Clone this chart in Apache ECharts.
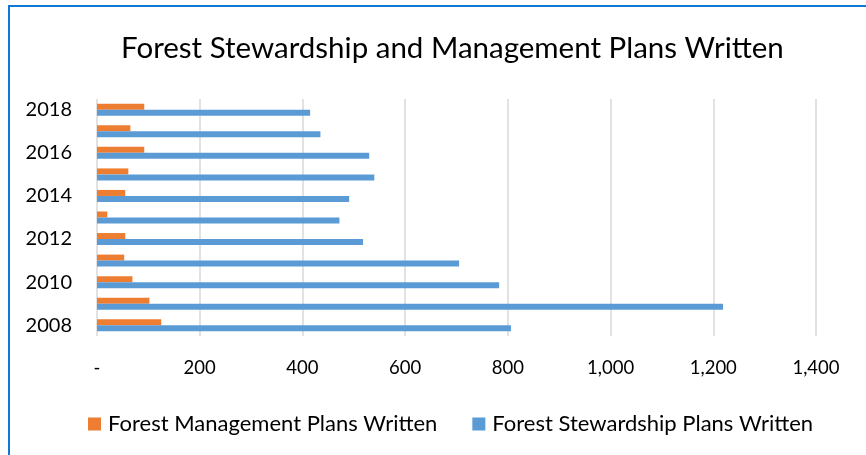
<!DOCTYPE html>
<html>
<head>
<meta charset="utf-8">
<script src="https://cdn.jsdelivr.net/npm/echarts@6/dist/echarts.min.js"></script>
<style>
    html, body { margin: 0; padding: 0; background: #fff; }
    #frame {
        position: absolute; left: 8px; top: 5px; width: 900px; height: 500px;
        border-top: 2px solid #0f78d4; border-left: 2px solid #0f78d4;
    }
    #main { position: absolute; left: 0; top: 0; width: 866px; height: 455px; }
</style>
</head>
<body>
<div id="frame"></div>
<div id="main"></div>
<script>
    var years = ['2008', '2009', '2010', '2011', '2012', '2013', '2014', '2015', '2016', '2017', '2018'];
    var management = [125, 102, 69, 53, 55, 20, 55, 61, 92, 65, 92];
    var stewardship = [806, 1219, 783, 705, 518, 472, 491, 540, 530, 435, 415];
    var xTicks = { 0: '-', 200: '200', 400: '400', 600: '600', 800: '800', 1000: '1,000', 1200: '1,200', 1400: '1,400' };

    var font = 'Lato, "Liberation Sans", sans-serif';
    var chart = echarts.init(document.getElementById('main'));

    var option = {
        animation: false,
        title: {
            text: 'Forest Stewardship and Management Plans Written',
            left: 116,
            top: 28,
            textStyle: { fontFamily: font, fontSize: 29.5, fontWeight: 'normal', color: '#000' }
        },
        legend: {
            data: ['Forest Management Plans Written', 'Forest Stewardship Plans Written'],
            left: 83,
            top: 408,
            itemWidth: 13,
            itemHeight: 13,
            itemGap: 35,
            icon: 'rect',
            textStyle: { fontFamily: font, fontSize: 22, color: '#000', padding: [0, 0, 0, 2] }
        },
        grid: { left: 97, right: 50, top: 99, bottom: 119 },
        xAxis: {
            type: 'value',
            min: 0,
            max: 1400,
            interval: 200,
            axisLine: { show: false },
            axisTick: { show: false },
            splitLine: { lineStyle: { color: '#d9d9d9', width: 1.5 } },
            axisLabel: {
                margin: 23,
                fontFamily: font,
                fontSize: 18.5,
                color: '#000',
                formatter: function (v) { return xTicks[v]; }
            }
        },
        yAxis: {
            type: 'category',
            data: years,
            axisLine: { show: false },
            axisTick: { show: false },
            axisLabel: {
                interval: 1,
                margin: 25,
                fontFamily: font,
                fontSize: 20,
                color: '#000'
            }
        },
        series: [
            {
                name: 'Forest Management Plans Written',
                type: 'bar',
                data: management,
                barWidth: 6,
                barGap: 0,
                itemStyle: { color: '#ed7d31' }
            },
            {
                name: 'Forest Stewardship Plans Written',
                type: 'bar',
                data: stewardship,
                barWidth: 6,
                barGap: 0,
                itemStyle: { color: '#5b9bd5' }
            }
        ]
    };
    chart.setOption(option);
</script>
</body>
</html>
